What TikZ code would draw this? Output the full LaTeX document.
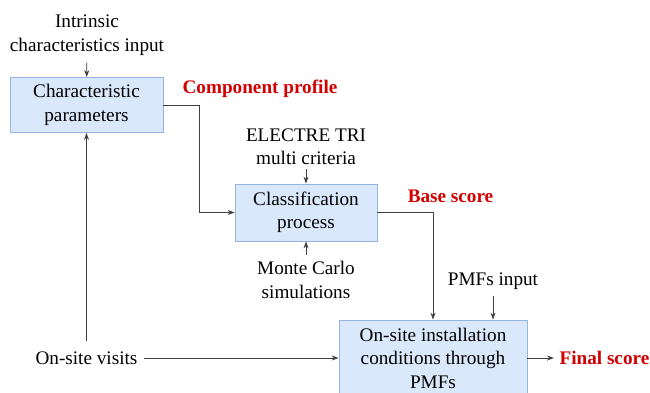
\documentclass[tikz,border=0pt]{standalone}
\usepackage{fontspec}
\setmainfont{Liberation Serif}
\usetikzlibrary{arrows.meta}
\definecolor{boxBlue}{RGB}{218, 232, 252}
\definecolor{boxEdge}{RGB}{150, 180, 225}
\definecolor{scoreRed}{RGB}{210, 0, 0}

\begin{document}
\begin{tikzpicture}[x=1pt, y=-1pt,
    every node/.style={font=\fontsize{19.2}{23.5}\selectfont, align=center},
    block/.style={draw=boxEdge, fill=boxBlue, line width=0.8pt, inner sep=0pt},
    score/.style={text=scoreRed, font=\fontsize{19.2}{23.5}\selectfont\bfseries},
    arr/.style={-{Stealth[length=7pt, width=5pt]}, line width=0.9pt, black!75}]
      \useasboundingbox (0,0) rectangle (650,392);

      % Boxes
      \node[block, minimum width=153pt, minimum height=55pt] (charp) at (86.5,105) {Characteristic\\parameters};
      \node[block, minimum width=142pt, minimum height=57pt] (cls) at (306,212.5) {Classification\\process};
      \node[block, minimum width=188pt, minimum height=76pt] (onsite) at (433,358) {On-site installation\\conditions through\\PMFs};

      % Inputs
      \node (intr) at (87,35) {Intrinsic\\characteristics input};
      \node (electre) at (306,146.5) {ELECTRE TRI\\multi criteria};
      \node (monte) at (306,280) {Monte Carlo\\simulations};
      \node (pmfin) at (493,281) {PMFs input};
      \node (visits) at (86.5,358) {On-site visits};

      % Scores
      \node[score] (comp) at (260,89) {Component profile};
      \node[score] (base) at (450.5,196) {Base score};
      \node[score, anchor=west] (final) at (556,358) {Final score};

      \draw[arr, shorten <=4pt] (intr) -- (charp);
      \draw[arr] (charp.east) -- ++(36,0) |- (cls.west);
      \draw[arr, shorten <=1pt] (electre) -- (cls);
      \draw[arr, shorten <=3pt] (monte) -- (cls);
      \draw[arr] (cls.east) -| (onsite.north);
      \draw[arr, shorten <=3pt] (pmfin) -- (pmfin |- onsite.north);
      \draw[arr, shorten <=7pt] (visits) -- (charp);
      \draw[arr, shorten <=3pt] (visits) -- (onsite);
      \draw[arr, shorten >=2pt] (onsite) -- (final);
    \end{tikzpicture}
\end{document}
